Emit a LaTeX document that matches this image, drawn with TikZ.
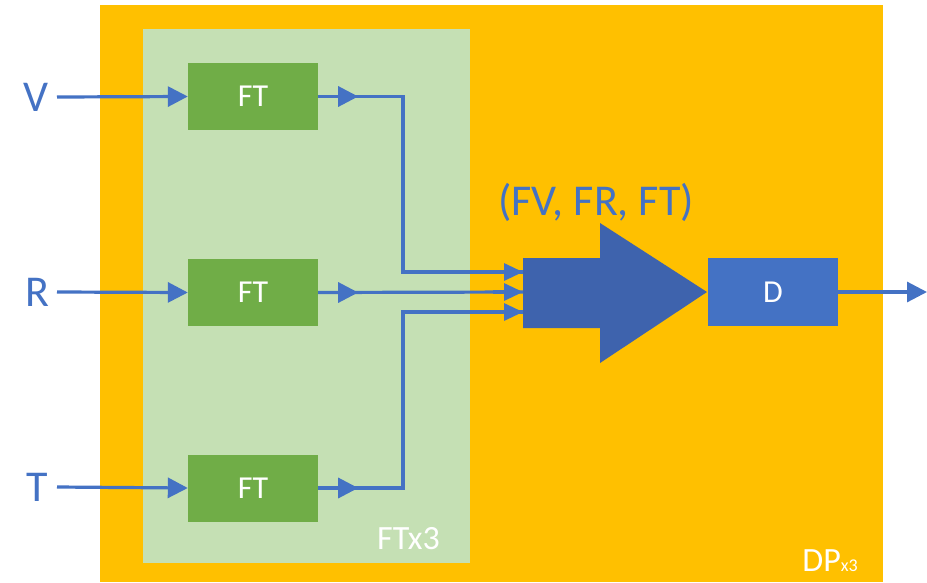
\documentclass[tikz,border=0pt]{standalone}
\usepackage{fontspec}
\setmainfont{Carlito}
\usetikzlibrary{arrows.meta,calc}
\definecolor{orng}{HTML}{FFC000}
\definecolor{lgreen}{HTML}{C5E0B4}
\definecolor{dgreen}{HTML}{70AD47}
\definecolor{mblue}{HTML}{4472C4}
\definecolor{bigblue}{HTML}{3E63AD}
\tikzset{
  ftbox/.style={fill=dgreen, draw=none, minimum width=130pt, minimum height=67pt, inner sep=0pt, text=white, font=\fontsize{32}{32}\selectfont},
  dbox/.style={fill=mblue, draw=none, minimum width=130pt, minimum height=68pt, inner sep=0pt, text=white, font=\fontsize{32}{32}\selectfont},
  inlabel/.style={text=mblue, inner sep=0pt, font=\fontsize{44}{44}\selectfont},
  conn/.style={draw=mblue, line width=3.2pt},
  arr/.style={conn, -{Triangle[length=20pt,width=20pt]}},
  sarr/.style={conn, -{Triangle[length=19pt,width=17pt]}}
}
\begin{document}
\begin{tikzpicture}[x=1pt,y=-1pt]
\useasboundingbox (0,0) rectangle (927,582);
% containers
\fill[orng] (100,5) rectangle (883,582);
\fill[lgreen] (143,29) rectangle (470,563);
% nodes
\node[ftbox] (ft1) at (253,96.5) {FT};
\node[ftbox] (ft2) at (253,292.5) {FT};
\node[ftbox] (ft3) at (253,488) {FT};
\node[dbox] (d) at (773,292) {D};
\node[inlabel] (v) at (36,97) {V};
\node[inlabel] (r) at (37,292) {R};
\node[inlabel] (t) at (37,487) {T};
\coordinate (vs) at (57,97);
\coordinate (rs) at (57,292);
\coordinate (ts) at (57,487);
% big arrow
\fill[bigblue] (523,258) -- (600,258) -- (600,223) -- (707,292) -- (600,363) -- (600,328) -- (523,328) -- cycle;
\coordinate (in1) at (523,272);
\coordinate (in2) at (523,292);
\coordinate (in3) at (523,312);
\node[text=mblue, inner sep=0pt, font=\fontsize{44}{44}\selectfont] (lab) at (596,202) {(FV, FR, FT)};
\node[text=white, inner sep=0pt, anchor=base east, font=\fontsize{34}{34}\selectfont] (ftx) at (440,549) {FTx3};
\node[text=white, inner sep=0pt, anchor=base east, font=\fontsize{34}{34}\selectfont] (dpx) at (858,571) {DP{\fontsize{18}{18}\selectfont x3}};
\coordinate (out) at (927,292);
% connectors
\draw[arr] (vs) -- (ft1.west);
\draw[arr] (rs) -- (ft2.west);
\draw[arr] (ts) -- (ft3.west);
\draw[conn] (ft1.east) -- (403,96.5) |- (in1);
\draw[conn] (ft3.east) -- (403,488) |- (in3);
\draw[conn] (ft2.east) -- (in2);
\draw[arr] (ft1.east) -- ++(40,0);
\draw[arr] (ft2.east) -- ++(40,0);
\draw[arr] (ft3.east) -- ++(40,0);
\draw[sarr] ($(in1)+(-30,0)$) -- (in1);
\draw[sarr] ($(in2)+(-30,0)$) -- (in2);
\draw[sarr] ($(in3)+(-30,0)$) -- (in3);
\draw[arr] (d.east) -- (out);
\end{tikzpicture}
\end{document}
